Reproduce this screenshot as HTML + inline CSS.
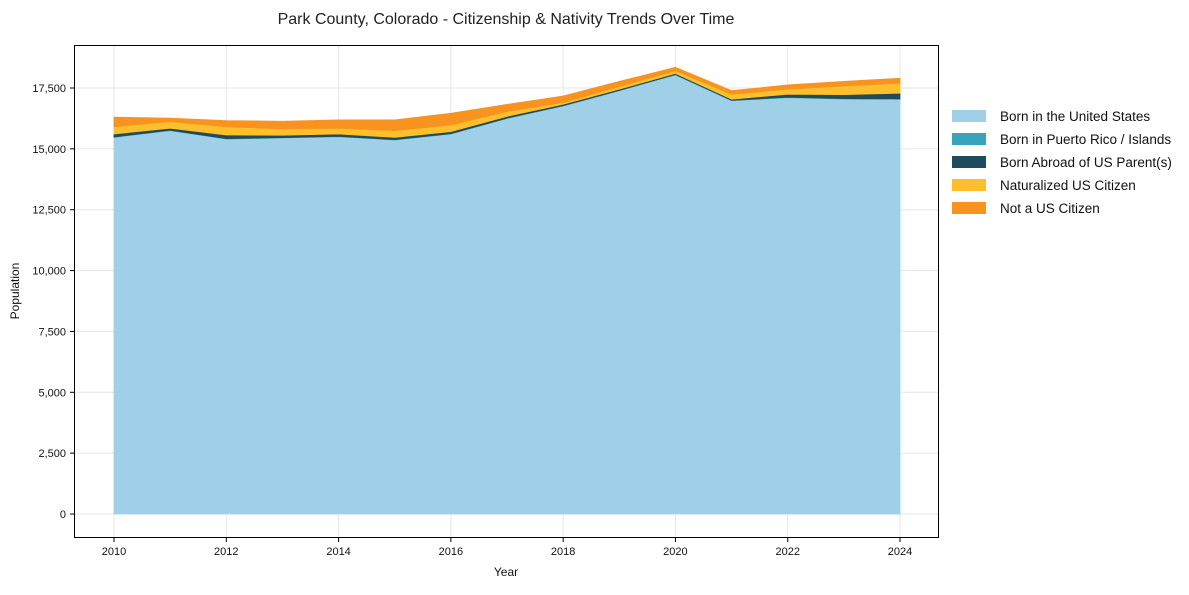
<!DOCTYPE html>
<html><head><meta charset="utf-8">
<style>
html,body{margin:0;padding:0;background:#fff;}
body{width:1189px;height:590px;overflow:hidden;font-family:"Liberation Sans",Arial,sans-serif;}
svg text{font-family:"Liberation Sans",Arial,sans-serif;}
</style></head>
<body>
<svg id="chart" width="1189" height="590" xmlns="http://www.w3.org/2000/svg">
<text x="506" y="24" text-anchor="middle" font-size="16" fill="#222">Park County, Colorado - Citizenship &amp; Nativity Trends Over Time</text>
<g id="grid"></g>
<g id="areas"></g>
<rect x="74.5" y="45.5" width="864" height="492" fill="none" stroke="#000" stroke-width="1"/>
<g id="axes"></g>
<text x="506" y="576" text-anchor="middle" font-size="12" fill="#111">Year</text>
<text x="19" y="291" text-anchor="middle" font-size="12" fill="#111" transform="rotate(-90 19 291)">Population</text>
<g id="legend"></g>
</svg>
<script>
const years = [2010,2011,2012,2013,2014,2015,2016,2017,2018,2019,2020,2021,2022,2023,2024];
const bornUS = [15475,15750,15405,15450,15500,15365,15610,16250,16760,17390,18040,16980,17105,17050,17040];
const bornPR = [15,15,15,15,15,15,15,15,15,15,15,15,15,15,15];
const bornAbroad = [122,80,150,95,95,95,85,70,60,50,45,45,125,165,230];
const naturalized = [298,275,340,260,240,275,270,200,65,105,110,205,205,355,410];
const nonCitizen = [390,140,250,315,340,440,480,290,270,210,140,145,175,185,205];
const seriesNames = ["Born in the United States","Born in Puerto Rico / Islands","Born Abroad of US Parent(s)","Naturalized US Citizen","Not a US Citizen"];
const yTicks = [0,2500,5000,7500,10000,12500,15000,17500];
const xTicks = [2010,2012,2014,2016,2018,2020,2022,2024];

const NS = "http://www.w3.org/2000/svg";
const x = v => 114 + (v - 2010) * (900 - 114) / 14;
const y = v => 514 - v * (514 - 88) / 17500;
function mk(tag, attrs, parent){const e=document.createElementNS(NS,tag);for(const k in attrs)e.setAttribute(k,attrs[k]);parent.appendChild(e);return e;}

const grid=document.getElementById('grid'), axes=document.getElementById('axes'), areas=document.getElementById('areas'), legend=document.getElementById('legend');
yTicks.forEach(t=>{
  const g=mk('line',{x1:74.5,x2:938.5,y1:y(t),y2:y(t),stroke:'#e6e6e6','stroke-width':1},grid);
  
  
  const tk=mk('line',{x1:70,x2:74.5,y1:y(t),y2:y(t),stroke:'#000'},axes);
  
  
  const lb=mk('text',{x:66,y:y(t)+4,'text-anchor':'end','font-size':11,fill:'#111'},axes);
  lb.textContent=t.toLocaleString('en-US');
  
  
});
xTicks.forEach(t=>{
  const g=mk('line',{x1:x(t),x2:x(t),y1:45.5,y2:537.5,stroke:'#e6e6e6','stroke-width':1},grid);
  
  
  const tk=mk('line',{x1:x(t),x2:x(t),y1:537.5,y2:542,stroke:'#000'},axes);
  
  
  const lb=mk('text',{x:x(t),y:555,'text-anchor':'middle','font-size':11,fill:'#111'},axes);
  lb.textContent=t;
  
  
});

const series=[bornUS,bornPR,bornAbroad,naturalized,nonCitizen];
const colors=['#9fd0e7','#38a3bd','#1f4b5c','#fdbf2d','#f7931e'];
const names=['area-born-us','area-born-puerto-rico','area-born-abroad','area-naturalized','area-not-citizen'];
let base=years.map(()=>0);
series.forEach((s,i)=>{
  const top=base.map((b,j)=>b+s[j]);
  let d='M'+years.map((yr,j)=>x(yr)+','+y(top[j])).join(' L');
  for(let j=years.length-1;j>=0;j--) d+=' L'+x(years[j])+','+y(base[j]);
  d+=' Z';
  const p=mk('path',{d:d,fill:colors[i],stroke:colors[i],'stroke-width':0.8,'stroke-linejoin':'round'},areas);
  
  
  base=top;
});

seriesNames.forEach((n,i)=>{
  const yy=116+i*23;
  const r=mk('rect',{x:952,y:yy-6,width:34,height:12,fill:colors[i]},legend);
  
  
  const t=mk('text',{x:1000,y:yy+5,'font-size':13.5,fill:'#111'},legend);
  t.textContent=n;
  
  
});
</script>
</body></html>
